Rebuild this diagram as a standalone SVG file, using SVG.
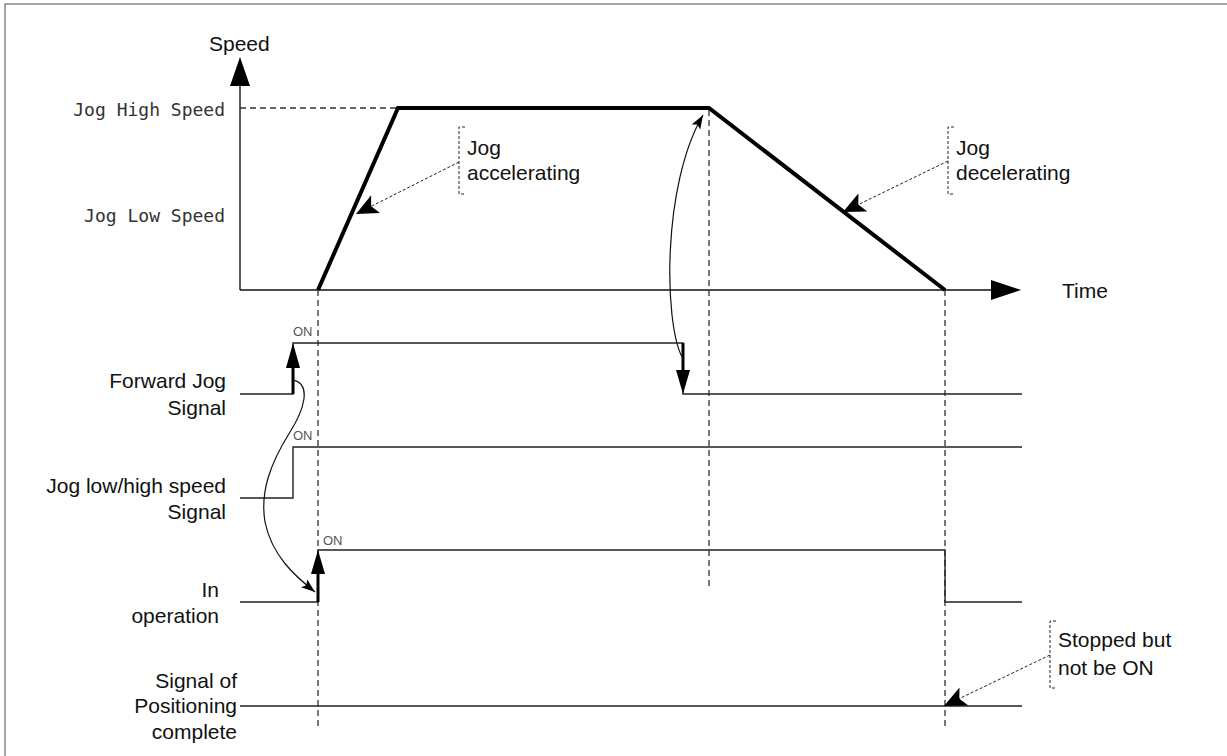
<svg xmlns="http://www.w3.org/2000/svg" width="1227" height="756" viewBox="0 0 1227 756">
<defs>
<style>
.lbl{font-family:"Liberation Sans",Arial,sans-serif;font-size:21px;fill:#111}
.mono{font-family:"DejaVu Sans Mono","Liberation Mono",monospace;font-size:18px;fill:#333}
.on{font-family:"Liberation Sans",Arial,sans-serif;font-size:13px;fill:#555}
.sig{fill:none;stroke:#222;stroke-width:1.4}
.vd{fill:none;stroke:#333;stroke-width:1.3;stroke-dasharray:6,4}
.ld{fill:none;stroke:#222;stroke-width:1;stroke-dasharray:3,2}
.thin{fill:none;stroke:#111;stroke-width:1.2}
</style>
<marker id="ah" markerUnits="userSpaceOnUse" viewBox="0 0 22 20" refX="22" refY="10" markerWidth="22" markerHeight="20" orient="auto">
<path d="M0,0 L22,10 L0,20 L5,10 Z" fill="#000"/>
</marker>
<marker id="ahs" markerUnits="userSpaceOnUse" viewBox="0 0 14 10" refX="14" refY="5" markerWidth="14" markerHeight="10" orient="auto">
<path d="M0,0 L14,5 L0,10 L3,5 Z" fill="#000"/>
</marker>
</defs>
<g id="frame">
<path d="M5,756 V4 H1227" fill="none" stroke="#888" stroke-width="1.5"/>
</g>
<g id="axes">
<line x1="240" y1="290" x2="240" y2="82" stroke="#111" stroke-width="1.4"/>
<polygon points="240,57 230,86 250,86" fill="#000"/>
<line x1="240" y1="290" x2="995" y2="290" stroke="#111" stroke-width="1.4"/>
<polygon points="1021,290 991,280 991,300" fill="#000"/>
<text class="lbl" x="209" y="51">Speed</text>
<text class="lbl" x="1062" y="298">Time</text>
<text class="mono" x="225" y="116" text-anchor="end">Jog High Speed</text>
<text class="mono" x="225" y="222" text-anchor="end">Jog Low Speed</text>
<line class="vd" x1="240" y1="108" x2="398" y2="108"/>
</g>
<g id="guides">
<line class="vd" x1="318" y1="290" x2="318" y2="730"/>
<line class="vd" x1="709" y1="110" x2="709" y2="590"/>
<line class="vd" x1="945" y1="290" x2="945" y2="730"/>
</g>
<g id="speed-profile">
<path d="M318,290 L398,108 L709,108 L945,290" fill="none" stroke="#000" stroke-width="4" stroke-linejoin="miter"/>
</g>
<g id="forward-jog">
<text class="lbl" x="226" y="388" text-anchor="end">Forward Jog</text>
<text class="lbl" x="226" y="415" text-anchor="end">Signal</text>
<path class="sig" d="M240,394 H293 V343 H683 V394 H1022"/>
<text class="on" x="293" y="336">ON</text>
<line x1="293" y1="394" x2="293" y2="364" stroke="#000" stroke-width="3"/>
<polygon points="293,343 286,368 300,368" fill="#000"/>
<line x1="683" y1="343" x2="683" y2="374" stroke="#000" stroke-width="3"/>
<polygon points="683,394 676,370 690,370" fill="#000"/>
</g>
<g id="jog-speed-signal">
<text class="lbl" x="226" y="493" text-anchor="end">Jog low/high speed</text>
<text class="lbl" x="226" y="519" text-anchor="end">Signal</text>
<path class="sig" d="M240,498 H293 V447 H1022"/>
<text class="on" x="293" y="440">ON</text>
</g>
<g id="in-operation">
<text class="lbl" x="219" y="597" text-anchor="end">In</text>
<text class="lbl" x="219" y="623" text-anchor="end">operation</text>
<path class="sig" d="M240,602 H318 V550 H945 V602 H1022"/>
<text class="on" x="323" y="545">ON</text>
<line x1="318" y1="602" x2="318" y2="570" stroke="#000" stroke-width="3"/>
<polygon points="318,550 311,574 325,574" fill="#000"/>
</g>
<g id="positioning-complete">
<text class="lbl" x="237" y="688" text-anchor="end">Signal of</text>
<text class="lbl" x="237" y="713" text-anchor="end">Positioning</text>
<text class="lbl" x="237" y="739" text-anchor="end">complete</text>
<path class="sig" d="M240,706 H1022"/>
</g>
<g id="note-accel">
<path class="ld" d="M465,127 H459 V194 H465"/>
<text class="lbl" x="467" y="155">Jog</text>
<text class="lbl" x="467" y="180">accelerating</text>
</g>
<g id="note-decel">
<path class="ld" d="M954,127 H948 V194 H954"/>
<text class="lbl" x="956" y="155">Jog</text>
<text class="lbl" x="956" y="180">decelerating</text>
</g>
<g id="note-stopped">
<path class="ld" d="M1056,621 H1050 V688 H1056"/>
<text class="lbl" x="1058" y="647">Stopped but</text>
<text class="lbl" x="1058" y="675">not be ON</text>
</g>
<g id="connectors">
<line class="ld" x1="459" y1="162" x2="356" y2="214" marker-end="url(#ah)"/>
<line class="ld" x1="948" y1="161" x2="843" y2="212" marker-end="url(#ah)"/>
<line class="ld" x1="1050" y1="655" x2="944" y2="706" marker-end="url(#ah)"/>
<path class="thin" d="M682,357 C664,322 662,185 703,115" marker-end="url(#ahs)"/>
<path class="thin" d="M293,380 C312,384 304,410 290,432 C270,464 260,492 265,522 C272,556 295,576 315,592" marker-end="url(#ahs)"/>
</g>
</svg>
